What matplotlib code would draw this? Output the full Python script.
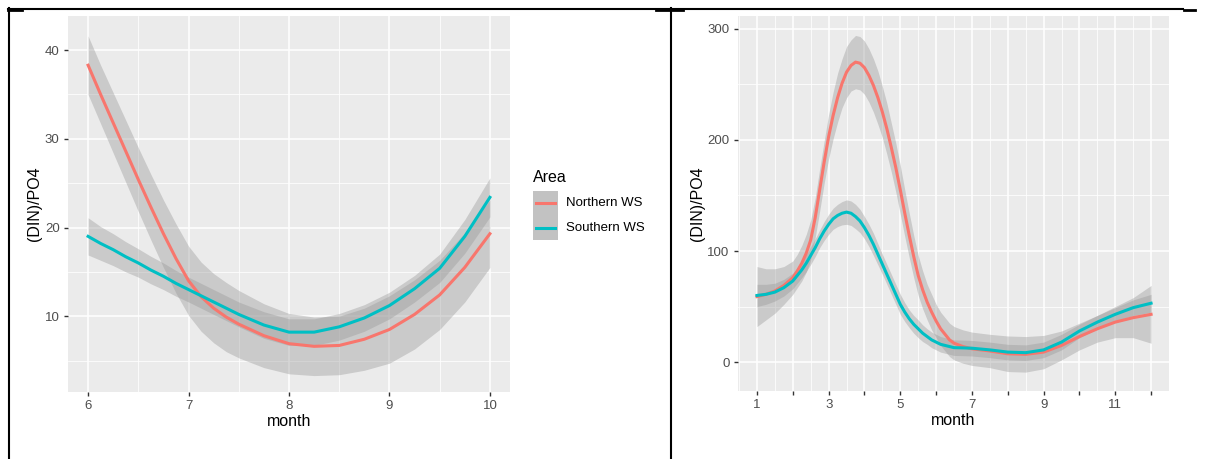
import numpy as np
import matplotlib.pyplot as plt
from matplotlib.lines import Line2D
from matplotlib.patches import Rectangle

plt.rcParams['font.family'] = ['Liberation Sans', 'DejaVu Sans']

RED = '#F8766D'
TEAL = '#00BFC4'

# left panel (months 6-10)
m_left = [6.0, 6.125, 6.25, 6.375, 6.5, 6.625, 6.75, 6.875, 7.0, 7.125, 7.25, 7.375, 7.5, 7.75,
          8.0, 8.25, 8.5, 8.75, 9.0, 9.25, 9.5, 9.75, 10.0]
north_left = [38.3, 35.0, 31.8, 28.6, 25.4, 22.3, 19.3, 16.5, 14.0, 12.2, 10.9, 9.9, 9.1, 7.8,
              6.9, 6.6, 6.7, 7.4, 8.5, 10.2, 12.4, 15.5, 19.3]
north_left_se = [3.3, 3.3, 3.4, 3.5, 3.6, 3.7, 3.8, 3.9, 3.9, 3.9, 3.9, 3.9, 3.8, 3.6,
                 3.4, 3.3, 3.3, 3.5, 3.8, 3.9, 3.9, 3.9, 3.8]
south_left = [19.0, 18.2, 17.5, 16.7, 16.0, 15.2, 14.5, 13.7, 13.0, 12.3, 11.6, 10.9, 10.2, 9.0,
              8.2, 8.2, 8.8, 9.8, 11.2, 13.1, 15.4, 19.0, 23.4]
south_left_se = [2.1, 1.9, 1.8, 1.7, 1.6, 1.55, 1.5, 1.45, 1.4, 1.4, 1.4, 1.4, 1.4, 1.5,
                 1.5, 1.5, 1.5, 1.5, 1.5, 1.5, 1.6, 1.9, 2.2]

# right panel (months 1-12)
m_right = [1.0, 1.25, 1.5, 1.75, 2.0, 2.125, 2.25, 2.375, 2.5, 2.625, 2.75, 2.875, 3.0, 3.125,
           3.25, 3.375, 3.5, 3.625, 3.75, 3.875, 4.0, 4.125, 4.25, 4.375, 4.5, 4.625, 4.75,
           4.875, 5.0, 5.125, 5.25, 5.375, 5.5, 5.625, 5.75, 5.875, 6.0, 6.125, 6.25, 6.375,
           6.5, 6.75, 7.0, 7.5, 8.0, 8.5, 9.0, 9.5, 10.0, 10.5, 11.0, 11.5, 12.0]
north_right = [59, 61, 64, 69, 76, 82, 89, 98, 110, 130, 155, 180, 203, 222,
               238, 251, 261, 267, 270, 269, 265, 258, 249, 238, 225, 210, 193,
               175, 155, 134, 114, 95, 78, 65, 54, 45, 37, 30, 25, 20,
               17, 14, 12, 10, 7.5, 7, 9, 15, 23, 30, 36, 40, 43]
north_right_se = [27, 23, 20, 17, 15, 15, 16, 17, 18, 18, 19, 19, 20, 21,
                  22, 22, 23, 23, 24, 24, 24, 24, 24, 24, 23, 23, 22,
                  22, 22, 21, 20, 19, 18, 17, 16, 16, 15, 15, 15, 15,
                  15, 15, 15, 15, 16, 16, 15, 13, 12, 12, 14, 18, 26]
south_right = [60, 61, 63, 67, 73, 78, 83, 89, 96, 103, 111, 118, 124, 129,
               132, 134, 135, 134, 131, 127, 121, 114, 106, 97, 88, 79, 70,
               61, 52, 45, 39, 34, 30, 26, 23, 20, 18, 16, 15, 14,
               13, 12.8, 12.5, 11, 9, 8.5, 11, 18, 28, 36, 43, 49, 53]
south_right_se = [10, 9, 8, 7.5, 7, 7, 7, 7.5, 8, 8, 8, 8.5, 9, 9.5,
                  10, 10.5, 11, 11, 11, 10.5, 10, 10, 10, 9.5, 9, 9, 9,
                  9, 9, 8.5, 8, 8, 8, 7.5, 7, 7, 7, 7, 7, 7,
                  7, 7, 7, 7, 7, 7, 7, 7, 6, 6, 6, 7, 8]

fig = plt.figure(figsize=(12.05, 4.59), dpi=100)
W, H = 1205, 459


def style(ax):
    ax.set_facecolor('#EBEBEB')
    for s in ax.spines.values():
        s.set_visible(False)
    ax.grid(True, which='major', color='white', linewidth=1.1)
    ax.grid(True, which='minor', color='white', linewidth=0.55)
    ax.set_axisbelow(True)
    ax.tick_params(which='major', length=3, width=1.0, color='#333333',
                   labelcolor='#4D4D4D', labelsize=9.5, pad=3)
    ax.tick_params(which='minor', length=0)
    ax.set_xlabel('month', fontsize=11.5, color='black', labelpad=1)
    ax.set_ylabel('(DIN)/PO4', fontsize=11.5, color='black', labelpad=2)


def smooth(ax, x, y, se, color):
    x = np.array(x)
    y = np.array(y)
    se = np.array(se)
    ax.fill_between(x, y - se, y + se, color='#999999', alpha=0.4, linewidth=0)
    ax.plot(x, y, color=color, linewidth=2.2, solid_joinstyle='round')


ax1 = fig.add_axes([68 / W, 1 - 392 / H, 442 / W, 376 / H])
style(ax1)
smooth(ax1, m_left, north_left, north_left_se, RED)
smooth(ax1, m_left, south_left, south_left_se, TEAL)
ax1.set_xlim(5.8, 10.2)
ax1.set_ylim(1.45, 43.85)
ax1.set_xticks([6, 7, 8, 9, 10])
ax1.set_xticks([6.5, 7.5, 8.5, 9.5], minor=True)
ax1.set_yticks([10, 20, 30, 40])
ax1.set_yticks([5, 15, 25, 35], minor=True)

ax2 = fig.add_axes([738 / W, 1 - 391 / H, 431 / W, 375 / H])
style(ax2)
smooth(ax2, m_right, north_right, north_right_se, RED)
smooth(ax2, m_right, south_right, south_right_se, TEAL)
ax2.set_xlim(0.47, 12.5)
ax2.set_ylim(-26, 311.5)
months = list(range(1, 13))
ax2.set_xticks(months)
ax2.set_xticklabels([str(m) if m % 2 == 1 else '' for m in months])
ax2.set_xticks([m + 0.5 for m in range(0, 13)], minor=True)
ax2.set_yticks([0, 100, 200, 300])
ax2.set_yticks([50, 150, 250], minor=True)

# legend
fig.text(533 / W, 1 - 177 / H, 'Area', fontsize=11.5, va='center', ha='left')
fig.patches.append(Rectangle((533 / W, 1 - 240 / H), 25 / W, 49 / H,
                             transform=fig.transFigure, facecolor='#C2C2C2', edgecolor='none'))
for yy, col, lab in [(203, RED, 'Northern WS'), (228, TEAL, 'Southern WS')]:
    fig.lines.append(Line2D([536 / W, 555 / W], [1 - yy / H, 1 - yy / H], transform=fig.transFigure,
                            color=col, linewidth=2.2))
    fig.text(566 / W, 1 - yy / H, lab, fontsize=9.5, va='center', ha='left')

# table borders around the figures
def fline(x0, y0, x1, y1, lw=1.5):
    fig.lines.append(Line2D([x0 / W, x1 / W], [1 - y0 / H, 1 - y1 / H], transform=fig.transFigure,
                            color='black', linewidth=lw))

fline(8, 8.5, 1183, 8.5)
fline(8.5, 8, 8.5, 459)
fline(670.5, 8, 670.5, 459)
fline(8, 10, 22, 10, 2.0)
fline(656, 9.5, 683, 9.5, 2.0)
fline(1184, 9.5, 1195, 9.5, 2.0)

fig.savefig('out.png', dpi=100)
